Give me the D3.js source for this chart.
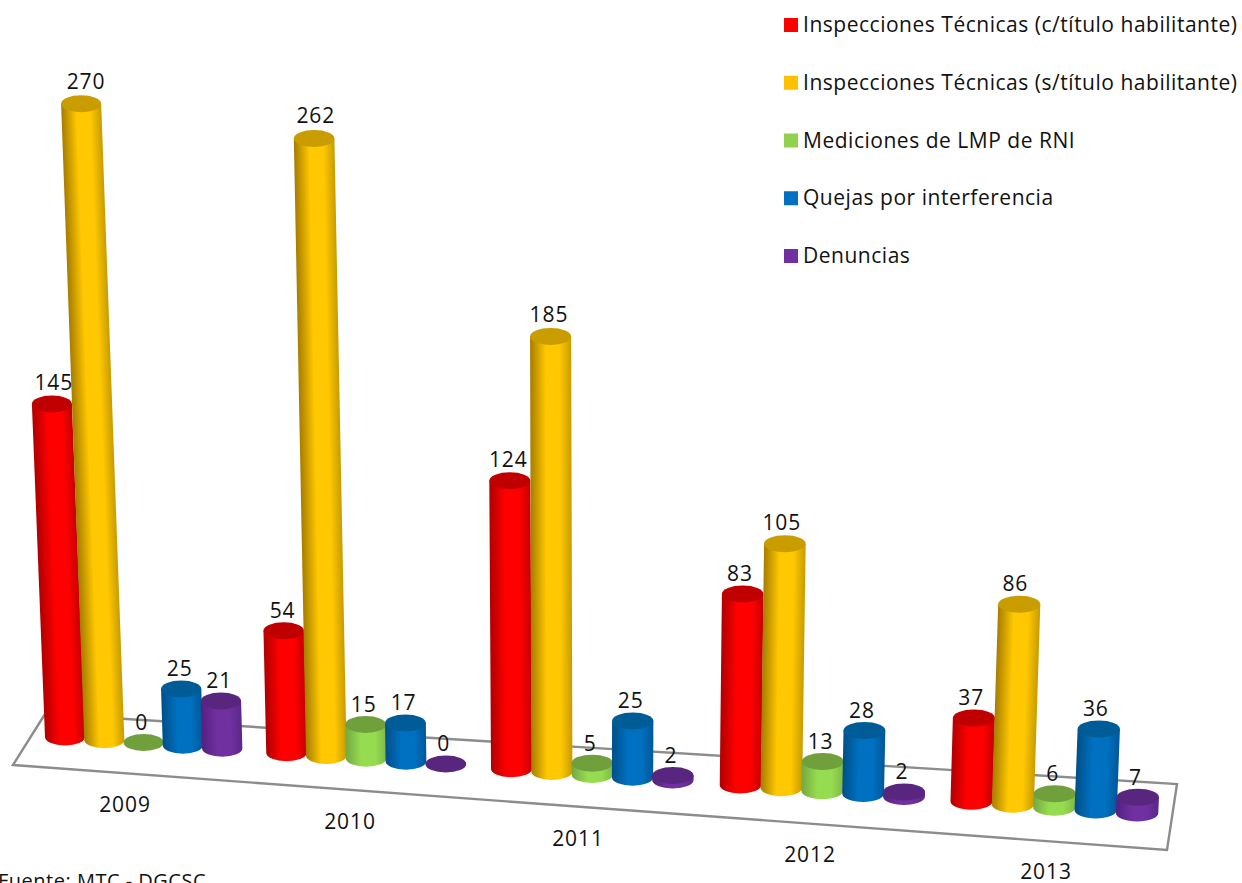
<!DOCTYPE html>
<html><head><meta charset="utf-8">
<script src="https://cdn.jsdelivr.net/npm/d3@7/dist/d3.min.js"></script>
<style>html,body{margin:0;padding:0;background:#fff;overflow:hidden}svg{display:block}text{font-family:"Open Sans",Lato,sans-serif;fill:#111}</style>
</head><body><svg id="c" width="1242" height="883"></svg>
<script>
const years=["2009","2010","2011","2012","2013"];
const seriesNames=["Inspecciones Técnicas (c/título habilitante)","Inspecciones Técnicas (s/título habilitante)","Mediciones de LMP de RNI","Quejas por interferencia","Denuncias"];
const tecnicasCon=[145,54,124,83,37];
const tecnicasSin=[270,262,185,105,86];
const mediciones=[0,15,5,13,6];
const quejas=[25,17,25,28,36];
const denuncias=[21,0,2,2,7];
const seriesValues=[tecnicasCon,tecnicasSin,mediciones,quejas,denuncias];
const sideColors=[["#b00000","#ff0000","#c80000"],["#a67c00","#ffc800","#c89c00"],["#74a840","#96dc50","#80b848"],["#004f88","#0070c0","#00589a"],["#532080","#7030a0","#5a2888"]];
const topColors=["#c00000","#c99c00","#70a03c","#005c96","#59267f"];
const legendColors=["#ff0000","#ffc000","#92d050","#0070c0","#7030a0"];
const source="Fuente: MTC - DGCSC";

const svg=d3.select("#c"),defs=svg.append("defs");
const gi=years.map((_,i)=>i);
const groupX=d3.scaleLinear().domain(gi).range([65,286.5,511.5,740.5,971.5]);
const stepX=d3.scaleLinear().domain([0,4]).range([39.3,41.4]);
const baseY=d3.scaleLinear().domain([65,1137]).range([737,813]);
const heightS=d3.scaleLinear().domain([0,40,54,83,86,124,145,185,270]).range([0,90,122,191,200,288,333,435,636]);
const tilt=d3.scaleLinear().domain([590,1590]).range([0,0.075]);
const labelGap=d3.scaleLinear().domain([0,130,185]).range([12.5,13.5,15]).clamp(true);
const rxS=d3.scaleLinear().domain([65,1137]).range([20,21.2]);
const ry=8.5;
const yearX=d3.scaleLinear().domain(gi).range([125,350,578,810,1046]);
const yearY=d3.scaleLinear().domain([0,4]).range([805,872]);
const legendY=d3.scalePoint().domain(seriesNames).range([25,256]);

const floorX=d3.scaleLinear().domain([0,1]).range([13,1167]);
const floorY=d3.scaleLinear().domain([0,1]).range([765,850]);
const backX=d3.scaleLinear().domain([0,1]).range([45,1177]);
const backY=d3.scaleLinear().domain([0,1]).range([714,784]);
svg.append("path").attr("d",d3.line()([[floorX(0),floorY(0)],[floorX(1),floorY(1)],[backX(1),backY(1)],[backX(0),backY(0)]])+"Z")
 .attr("fill","none").attr("stroke","#8c8c8c").attr("stroke-width",2.4);

const marks=[];
years.forEach((y,g)=>seriesValues.forEach((vals,s)=>{
  const bx=groupX(g)+s*stepX(g),by=baseY(bx),h=heightS(vals[g]);
  const tx=bx+h*tilt(bx),ty=by-h;
  marks.push({g,s,v:vals[g],bx,by,h,tx,ty,rx:rxS(bx)});
}));
const bars=svg.append("g");
marks.forEach((m,i)=>{
  const G=bars.append("g");
  if(m.h>0){
    const dx=m.tx-m.bx,dy=m.ty-m.by,len=Math.hypot(dx,dy),nx=-dy/len,ny=dx/len;
    const id="g"+i,c=sideColors[m.s];
    const gr=defs.append("linearGradient").attr("id",id).attr("gradientUnits","userSpaceOnUse")
      .attr("x1",m.bx-nx*m.rx).attr("y1",m.by-ny*m.rx).attr("x2",m.bx+nx*m.rx).attr("y2",m.by+ny*m.rx);
    [[0,c[0]],[.38,c[1]],[.72,c[1]],[1,c[2]]].forEach(([o,k])=>gr.append("stop").attr("offset",o).attr("stop-color",k));
    G.append("path").attr("fill",`url(#${id})`)
     .attr("d",`M${m.bx-m.rx},${m.by}A${m.rx},${ry} 0 0 0 ${m.bx+m.rx},${m.by}L${m.tx+m.rx},${m.ty}L${m.tx-m.rx},${m.ty}Z`);
  }
  G.append("ellipse").attr("cx",m.tx).attr("cy",m.ty).attr("rx",m.rx).attr("ry",ry).attr("fill",topColors[m.s]);
});
svg.append("g").selectAll("text").data(marks).join("text")
 .attr("x",d=>d.bx+0.7*(d.tx-d.bx)-2).attr("y",d=>d.ty-labelGap(d.v)).attr("text-anchor","middle").attr("font-size",21).attr("letter-spacing",0.9).text(d=>d.v);
svg.append("g").selectAll("text").data(years).join("text")
 .attr("x",(d,i)=>yearX(i)).attr("y",(d,i)=>yearY(i)+7).attr("text-anchor","middle").attr("font-size",21).attr("letter-spacing",0.9).text(d=>d);
const lg=svg.append("g").selectAll("g").data(seriesNames).join("g");
lg.append("rect").attr("x",784).attr("y",d=>legendY(d)-7).attr("width",14).attr("height",14).attr("fill",(d,i)=>legendColors[i]);
lg.append("text").attr("x",803).attr("y",d=>legendY(d)+7).attr("font-size",21).attr("letter-spacing",0.52).text(d=>d);
svg.append("text").attr("x",-2).attr("y",888).attr("font-size",20).attr("letter-spacing",0.5).text(source);
</script></body></html>
